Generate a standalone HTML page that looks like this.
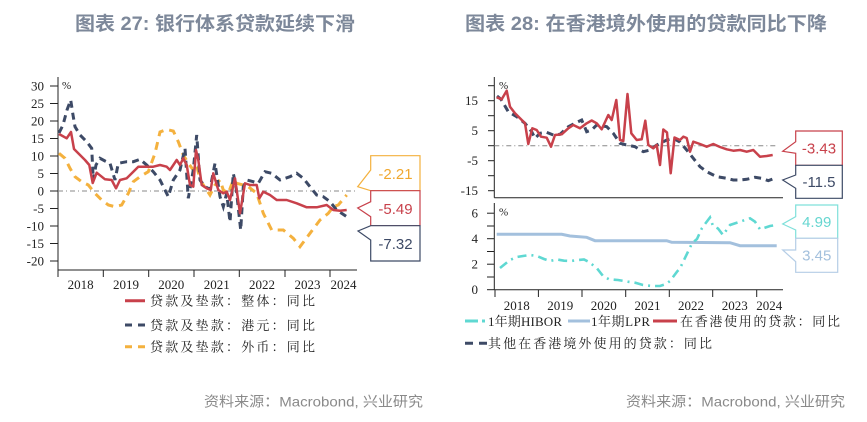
<!DOCTYPE html>
<html><head><meta charset="utf-8"><style>
html,body{margin:0;padding:0;background:#fff;}
svg{display:block;}
.ax{font-family:"Liberation Serif",serif;font-size:13px;fill:#222;}
.lg{font-family:"Liberation Serif","Noto Serif CJK SC",serif;font-size:13px;fill:#222;}
.ti{font-family:"Liberation Sans","Noto Sans CJK SC",sans-serif;font-size:19px;font-weight:bold;fill:#7d889a;}
.ft{font-family:"Liberation Sans","Noto Sans CJK SC",sans-serif;font-size:14px;fill:#8a8a8a;}
.co{font-family:"Liberation Sans",sans-serif;font-size:15px;}
</style></head><body>
<svg width="867" height="422" viewBox="0 0 867 422" xmlns="http://www.w3.org/2000/svg">
<rect width="867" height="422" fill="#fff"/>
<!-- Titles -->
<text class="ti" x="75" y="30" textLength="280" lengthAdjust="spacingAndGlyphs">图表 27: 银行体系贷款延续下滑</text>
<text class="ti" x="465" y="30" textLength="362" lengthAdjust="spacingAndGlyphs">图表 28: 在香港境外使用的贷款同比下降</text>

<!-- LEFT CHART -->
<g stroke="#222" stroke-width="1" fill="none">
<line x1="58" y1="77" x2="58" y2="270"/>
<line x1="58" y1="270" x2="357" y2="270"/>
<line x1="50" y1="86" x2="58" y2="86"/><line x1="50" y1="103.5" x2="58" y2="103.5"/>
<line x1="50" y1="121" x2="58" y2="121"/><line x1="50" y1="138.5" x2="58" y2="138.5"/>
<line x1="50" y1="156" x2="58" y2="156"/><line x1="50" y1="173.5" x2="58" y2="173.5"/>
<line x1="50" y1="191" x2="58" y2="191"/><line x1="50" y1="208.5" x2="58" y2="208.5"/>
<line x1="50" y1="226" x2="58" y2="226"/><line x1="50" y1="243.5" x2="58" y2="243.5"/>
<line x1="50" y1="261" x2="58" y2="261"/>
<line x1="58" y1="270" x2="58" y2="277"/><line x1="103.3" y1="270" x2="103.3" y2="277"/>
<line x1="148.7" y1="270" x2="148.7" y2="277"/><line x1="194" y1="270" x2="194" y2="277"/>
<line x1="239.3" y1="270" x2="239.3" y2="277"/><line x1="285" y1="270" x2="285" y2="277"/>
<line x1="330" y1="270" x2="330" y2="277"/>
</g>
<g class="ax" text-anchor="end">
<text x="44" y="90.5">30</text><text x="44" y="108">25</text><text x="44" y="125.5">20</text>
<text x="44" y="143">15</text><text x="44" y="160.5">10</text><text x="44" y="178">5</text>
<text x="44" y="195.5">0</text><text x="44" y="213">-5</text><text x="44" y="230.5">-10</text>
<text x="44" y="248">-15</text><text x="44" y="265.5">-20</text>
</g>
<g class="ax" text-anchor="middle">
<text x="80.6" y="289">2018</text><text x="126" y="289">2019</text><text x="171.3" y="289">2020</text>
<text x="216.7" y="289">2021</text><text x="262" y="289">2022</text><text x="307.5" y="289">2023</text>
<text x="343.5" y="289">2024</text>
</g>
<text class="ax" x="62" y="89" style="font-size:11px">%</text>
<line x1="58" y1="191" x2="357" y2="191" stroke="#888" stroke-width="1" stroke-dasharray="5,3,1,3"/>
<polyline fill="none" stroke="#f4b13e" stroke-width="3" stroke-dasharray="8,6" points="59,153.3 65,158.3 70,168.3 75,176.7 81.7,181.7 88.3,185 95,193.3 101.7,200 108.3,205 115,206.7 121.7,205 128.3,193.3 133.3,181.7 140,176.7 148.3,171.7 155,153.3 160,132 166.7,129.5 173.3,131 178.3,141.7 183.3,155 188.3,163.3 193.3,170 196.7,165 200,180 206.7,190 210,195 215,185 220,180 223.3,190 228.3,193.3 233.3,180 236.7,183.3 243.3,185 248.3,186.7 256.7,193.3 263.3,213.3 271.7,230 283.3,230 293.3,238.3 300,246.7 310,233.3 320,220 328.3,213.3 333.3,206.7 338.3,205 346.7,195"/>
<polyline fill="none" stroke="#3d4a66" stroke-width="3" stroke-dasharray="7,5" points="59,133 63,125 67,110 70.7,100 73,115 75,126.7 80,135 86.7,141.7 91.7,148.3 93.3,180 96,165 100,158.3 105,161 110,163.3 115,180 118.3,163.3 126.7,161.7 133.3,161.7 140,159.3 146.7,165 153.3,171.7 160,180 168.3,196.7 173.3,180 180,170 185,148.3 188.3,198.3 193.3,170 196.7,135 200,180 205,186.7 210,189.3 215,163.3 220,196.7 223.3,206.7 226.7,193.3 230,222 233.3,173.3 236,186.7 240.7,230 243.3,186.7 246.7,180 253.3,181.7 258.3,183.3 265,171.7 271.7,173.3 280,180 290,176.7 296.7,173.3 303.3,178.3 310,186.7 316.7,195 323.3,196.7 330,201.7 336.7,210 346.7,216.7"/>
<polyline fill="none" stroke="#c8414b" stroke-width="2.5" stroke-linejoin="round" points="59,134 66.7,138.3 71,132 74,149 80,155 85,160 89.3,165 92.7,183 96.7,172.7 105,179.3 111.7,180 116,188.3 120,180 126.7,178.3 133.3,171.7 138.3,166.7 145,166.7 153.3,166.7 160,165 166.7,166.7 170,170 176.7,160 180,165 183.3,158.3 186.7,165 190,185 193.3,186.7 196,150 198.3,160 201.7,185 206.7,188.3 210.7,190 213.3,173.3 218.3,190 223.3,193.3 226.7,191.7 230,200 235,178.3 240,213.3 245,183.3 250,185 256.7,185 259.3,198.3 263.3,191.7 270,195 276.7,200 286.7,200 296.7,203.3 306.7,207.3 316.7,207.3 326.7,205 333.3,210 340,210.7 346.7,210"/>
<!-- left callouts -->
<path d="M370.7,155.7 H420 V190.7 H370.7 L357.7,186.7 L370.7,170 Z" fill="#fff" stroke="#f4b13e" stroke-width="1.2"/>
<path d="M370.7,190.7 H420 V225.7 H370.7 V216.7 L357.7,208 L370.7,201.7 Z" fill="#fff" stroke="#c8414b" stroke-width="1.2"/>
<path d="M370.7,225.7 H420 V261 H370.7 V240 L358,231 Z" fill="#fff" stroke="#3d4a66" stroke-width="1.2"/>
<text class="co" x="395.5" y="179" text-anchor="middle" fill="#f0a830">-2.21</text>
<text class="co" x="395.5" y="214" text-anchor="middle" fill="#c8414b">-5.49</text>
<text class="co" x="395.5" y="249" text-anchor="middle" fill="#3d4a66">-7.32</text>
<!-- left legend -->
<line x1="125" y1="300.7" x2="145" y2="300.7" stroke="#c8414b" stroke-width="3"/>
<line x1="125" y1="325" x2="145" y2="325" stroke="#3d4a66" stroke-width="3" stroke-dasharray="7,6"/>
<line x1="125" y1="346.7" x2="145" y2="346.7" stroke="#f4b13e" stroke-width="3" stroke-dasharray="7,6"/>
<text class="lg" x="150" y="305.5" textLength="165">贷款及垫款：整体：同比</text>
<text class="lg" x="150" y="329.8" textLength="165">贷款及垫款：港元：同比</text>
<text class="lg" x="150" y="351.5" textLength="165">贷款及垫款：外币：同比</text>

<!-- RIGHT CHART -->
<g stroke="#222" stroke-width="1" fill="none">
<line x1="494.3" y1="77" x2="494.3" y2="197.7"/>
<line x1="494.3" y1="197.7" x2="783" y2="197.7"/>
<line x1="488" y1="85.7" x2="494.3" y2="85.7"/><line x1="488" y1="100.7" x2="494.3" y2="100.7"/>
<line x1="488" y1="115.7" x2="494.3" y2="115.7"/><line x1="488" y1="130.7" x2="494.3" y2="130.7"/>
<line x1="488" y1="145.7" x2="494.3" y2="145.7"/><line x1="488" y1="160.7" x2="494.3" y2="160.7"/>
<line x1="488" y1="175.7" x2="494.3" y2="175.7"/><line x1="488" y1="190.7" x2="494.3" y2="190.7"/>
<line x1="494.3" y1="203" x2="494.3" y2="289.7"/>
<line x1="494.3" y1="289.7" x2="783" y2="289.7"/>
<line x1="487" y1="213.2" x2="494.3" y2="213.2"/><line x1="487" y1="226" x2="494.3" y2="226"/>
<line x1="487" y1="238.7" x2="494.3" y2="238.7"/><line x1="487" y1="251.5" x2="494.3" y2="251.5"/>
<line x1="487" y1="264.2" x2="494.3" y2="264.2"/><line x1="487" y1="277" x2="494.3" y2="277"/>
<line x1="487" y1="289.7" x2="494.3" y2="289.7"/>
<line x1="495" y1="289.7" x2="495" y2="297"/><line x1="538.4" y1="289.7" x2="538.4" y2="297"/>
<line x1="582" y1="289.7" x2="582" y2="297"/><line x1="625.7" y1="289.7" x2="625.7" y2="297"/>
<line x1="669.3" y1="289.7" x2="669.3" y2="297"/><line x1="712.7" y1="289.7" x2="712.7" y2="297"/>
<line x1="756.7" y1="289.7" x2="756.7" y2="297"/>
</g>
<g class="ax" text-anchor="end">
<text x="478" y="105.2">15</text><text x="478" y="135.2">5</text>
<text x="478" y="165.2">-5</text><text x="478" y="195.2">-15</text>
<text x="478" y="217.7">6</text><text x="478" y="243.2">4</text>
<text x="478" y="268.7">2</text><text x="478" y="294">0</text>
</g>
<g class="ax" text-anchor="middle">
<text x="516.7" y="310">2018</text><text x="560.2" y="310">2019</text><text x="603.8" y="310">2020</text>
<text x="647.5" y="310">2021</text><text x="691" y="310">2022</text><text x="734.7" y="310">2023</text>
<text x="769.3" y="310">2024</text>
</g>
<text class="ax" x="499" y="89" style="font-size:11px">%</text>
<text class="ax" x="499" y="215.5" style="font-size:11px">%</text>
<line x1="494.3" y1="145.7" x2="778" y2="145.7" stroke="#888" stroke-width="1" stroke-dasharray="5,3,1,3"/>
<polyline fill="none" stroke="#3d4a66" stroke-width="3" stroke-dasharray="7,5" points="497,96 501,99.3 508.3,111.7 516.7,116.7 525,123.3 531.7,131.7 535,138.3 540,133.3 546.7,132.3 553.3,135 560,134.3 568.3,126.7 575,123.3 581.7,120 586.7,131.7 591.7,130 596.7,125 606.7,126.7 613.3,133.3 620,143.3 626.7,145 635,146.7 643.3,151.7 650,150 656.7,145 666.7,140 673.3,138.3 680,142 686.7,150 693.3,158.3 700,166.7 706.7,171.7 716.7,176.7 726.7,178.3 733.3,180 740,180 746.7,179.3 755,177.3 761.7,178.3 768.3,180.7 772.7,179"/>
<polyline fill="none" stroke="#c8414b" stroke-width="2.5" stroke-linejoin="round" points="496.7,97.3 501.7,99.3 506.7,90.7 510,106.7 515,113.3 520,118.3 525,123.3 528.3,144 532.3,128.3 536.7,130 541,136.7 546.7,137.7 551,146.7 555,135 561.7,134.3 568.3,128.3 573.3,125 580,128.3 586.7,123.3 591.7,120.5 596.7,123.3 601.7,129.3 608.3,115 611.7,120 616.3,100 620,140 623.3,141 627.5,94 631.3,133.3 636.7,140 641.7,139.3 645.3,120.7 648.3,145 653.3,148.3 656.7,145 660,165 663.3,129.5 667,132.5 670.7,173.3 674.5,137.5 680,140 683.3,136.7 686.7,138 690,151.7 693.3,141.7 700,144 706.7,146.7 713.3,144 720,147 726.7,149.3 733.3,150.7 740,150 746.7,151.7 753.3,150 760,156.7 766.7,156 772.7,155"/>
<polyline fill="none" stroke="#a3c0dd" stroke-width="3" points="496.7,234.3 561.7,234.3 570,236 586.7,237.3 595,240.7 666.7,240.7 671.7,242.3 730,242.7 740,245.7 776.7,245.7"/>
<polyline fill="none" stroke="#5fd8d2" stroke-width="2.6" stroke-dasharray="9,5,2,5" points="500,268 505,264 510,260 517,257 523,256 530,255 537,256 544,259 550,261 557,259.5 564,260.7 571,261 578,260 584,259.5 589,262 597,268.3 603,276 609,279.3 618,280 628,281.7 635,282.7 643,285 652,286 660,286 666,284 670,281 677,271.7 680,268.3 684,260 688,251.7 692,243.3 697,239 702,228 705,224 710,217.5 713,226 718,228.5 723,235 730,225 740,221.7 750,218.3 755,221.7 760,229.3 770,226 776,225"/>
<!-- right callouts -->
<path d="M795.7,131 H842.3 V165.3 H795.7 V153.3 L782.7,151.3 L795.7,141.7 Z" fill="#fff" stroke="#c8414b" stroke-width="1.2"/>
<path d="M795.7,165.3 H842.3 V198.3 H795.7 V188.3 L782.7,180 L795.7,175 Z" fill="#fff" stroke="#3d4a66" stroke-width="1.2"/>
<path d="M795.7,205 H837.7 V238.3 H795.7 V230 L782.7,224 L795.7,216.7 Z" fill="#fff" stroke="#7fe0da" stroke-width="1.2"/>
<path d="M795.7,238.3 H837.7 V272.3 H795.7 V261.7 L782.7,250 L795.7,250 Z" fill="#fff" stroke="#b5cde6" stroke-width="1.2"/>
<text class="co" x="819" y="153.5" text-anchor="middle" fill="#c8414b">-3.43</text>
<text class="co" x="819" y="187" text-anchor="middle" fill="#3d4a66">-11.5</text>
<text class="co" x="816.7" y="227" text-anchor="middle" fill="#66d6d0">4.99</text>
<text class="co" x="816.7" y="260.5" text-anchor="middle" fill="#a3c0dd">3.45</text>
<!-- right legend -->
<line x1="465" y1="321" x2="478" y2="321" stroke="#5fd8d2" stroke-width="3"/>
<line x1="482" y1="321" x2="485" y2="321" stroke="#5fd8d2" stroke-width="3"/>
<text class="lg" x="488" y="325.8" textLength="74">1年期HIBOR</text>
<line x1="568" y1="321" x2="590" y2="321" stroke="#a3c0dd" stroke-width="3"/>
<text class="lg" x="591" y="325.8" textLength="59">1年期LPR</text>
<line x1="653" y1="321" x2="677" y2="321" stroke="#c8414b" stroke-width="3"/>
<text class="lg" x="680" y="325.8" textLength="160">在香港使用的贷款：同比</text>
<line x1="465" y1="343.3" x2="487" y2="343.3" stroke="#3d4a66" stroke-width="3" stroke-dasharray="8,6"/>
<text class="lg" x="488" y="348" textLength="224">其他在香港境外使用的贷款：同比</text>

<!-- footers -->
<text class="ft" x="204" y="406.5" textLength="219" lengthAdjust="spacingAndGlyphs">资料来源：Macrobond, 兴业研究</text>
<text class="ft" x="626" y="406.5" textLength="219" lengthAdjust="spacingAndGlyphs">资料来源：Macrobond, 兴业研究</text>
</svg>
</body></html>
